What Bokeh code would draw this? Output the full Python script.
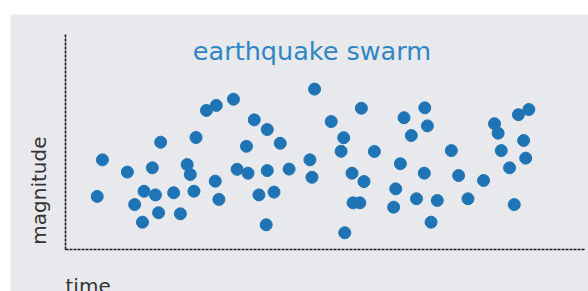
import math
from bokeh.plotting import figure
from bokeh.models import Range1d, Label, Spacer
from bokeh.layouts import column, row
from bokeh.embed import file_html
from bokeh.resources import INLINE

# earthquake swarm: time (arbitrary units 0-100) vs magnitude (arbitrary 0-10)
time = [6.1, 7.1, 11.9, 13.3, 14.8, 15.1, 16.7, 17.3, 17.9, 18.3,
        20.8, 22.1, 23.4, 24.0, 24.7, 25.1, 27.1, 29.0, 28.8, 29.5,
        32.3, 33.0, 34.8, 35.1, 36.3, 37.2, 38.6, 38.8, 38.8, 40.1,
        41.3, 43.0, 47.9, 47.0, 47.4, 51.1, 53.5, 53.0, 53.7, 55.1,
        55.3, 56.6, 56.9, 57.4, 59.4, 64.4, 63.5, 63.1, 65.1, 66.5,
        67.5, 69.1, 69.6, 69.0, 70.3, 71.5, 74.2, 75.6, 77.4, 80.4,
        82.5, 83.2, 83.8, 85.4, 86.3, 87.1, 89.1, 88.1, 88.5]
magnitude = [2.47, 4.17, 3.60, 2.09, 1.27, 2.71, 3.80, 2.54, 1.71, 4.99,
             2.64, 1.66, 3.95, 3.49, 2.71, 5.21, 6.47, 6.70, 3.18, 2.33,
             6.99, 3.73, 4.80, 3.55, 6.03, 2.54, 1.15, 5.58, 3.67, 2.67,
             4.94, 3.74, 7.46, 4.17, 3.36, 5.95, 5.20, 4.57, 0.78, 3.55,
             2.17, 2.17, 6.57, 3.16, 4.56, 3.99, 2.82, 1.97, 6.13, 5.30,
             2.36, 6.59, 5.75, 3.55, 1.27, 2.28, 4.60, 3.44, 2.36, 3.21,
             5.85, 5.41, 4.60, 3.80, 2.09, 6.27, 6.51, 5.07, 4.25]

title_text = "earthquake swarm"
x_label = "time"
y_label = "magnitude"

BG = "#e8e9ed"
BLUE = "#1f74b5"

p = figure(width=578, height=277, output_backend="svg", toolbar_location=None,
           x_range=Range1d(-10.577, 100.577), y_range=Range1d(-1.953, 10.930),
           min_border=0)
p.background_fill_color = BG
p.border_fill_color = BG
p.outline_line_color = None
p.xgrid.visible = False
p.ygrid.visible = False

p.xaxis.fixed_location = 0
p.xaxis.bounds = (0, 100)
p.yaxis.fixed_location = 0
p.yaxis.bounds = (0, 10)
for ax in (p.xaxis[0], p.yaxis[0]):
    ax.axis_line_color = "#1a1a1a"
    ax.axis_line_width = 1.6
    ax.axis_line_dash = "3 1"
    ax.major_tick_line_color = None
    ax.minor_tick_line_color = None
    ax.major_label_text_font_size = "0px"
    ax.major_label_text_color = None
    ax.major_label_standoff = 0

p.scatter(time, magnitude, size=12, color=BLUE, line_color=BLUE)

p.add_layout(Label(x=47.4, y=9.25, text=title_text, text_align="center",
                   text_baseline="alphabetic", text_font="DejaVu Sans",
                   text_font_size="25.5px", text_color="#2f86c3"))
p.add_layout(Label(x=-5.1, y=2.74, text=y_label, angle=math.pi / 2,
                   text_align="center", text_baseline="middle",
                   text_font="DejaVu Sans", text_font_size="20px", text_color="#333333"))
p.add_layout(Label(x=0, y=-1.16, text=x_label, text_align="left",
                   text_baseline="top", text_font="DejaVu Sans",
                   text_font_size="20px", text_color="#333333"))

layout = column(Spacer(height=14, width=10), row(Spacer(width=10, height=2), p))

open("out.html", "w").write(file_html(layout, INLINE))
